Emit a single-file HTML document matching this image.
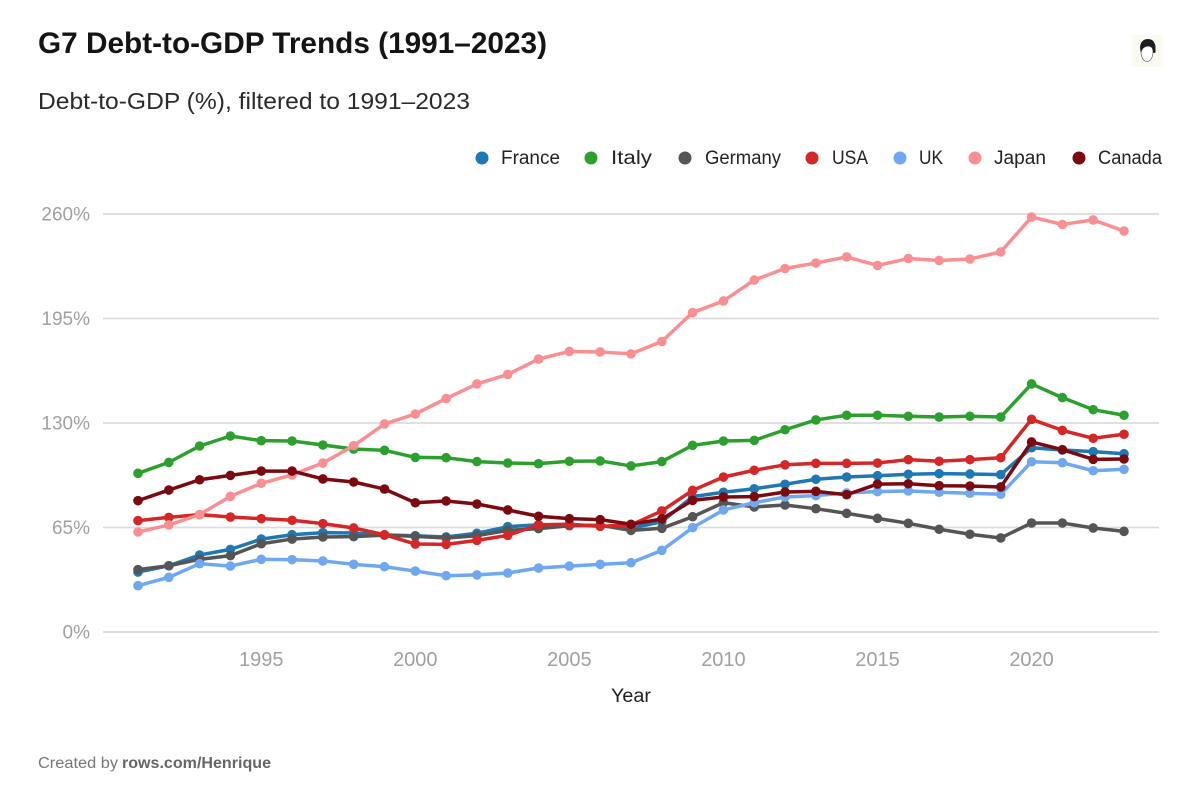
<!DOCTYPE html>
<html lang="en">
<head>
<meta charset="utf-8">
<title>G7 Debt-to-GDP Trends (1991–2023)</title>
<style>
html,body{margin:0;padding:0;background:#fff;}
body{width:1200px;height:800px;overflow:hidden;}
svg{display:block;font-family:"Liberation Sans",sans-serif;}
</style>
</head>
<body>
<svg id="chart" xmlns="http://www.w3.org/2000/svg" width="1200" height="800" viewBox="0 0 1200 800">
  <rect x="0" y="0" width="1200" height="800" fill="#fff"/>
  <text x="38" y="53" font-size="29.500" font-weight="700" fill="#141414" textLength="509" lengthAdjust="spacingAndGlyphs">G7 Debt-to-GDP Trends (1991–2023)</text>
  <text x="38" y="109" font-size="23" fill="#2a2a2a" textLength="432" lengthAdjust="spacingAndGlyphs">Debt-to-GDP (%), filtered to 1991–2023</text>

  <g>
    <rect x="1131" y="35" width="32" height="32" fill="#fafaf3"/>
    <ellipse cx="1147" cy="52" rx="6" ry="9.500" fill="#fff" stroke="#666" stroke-width="0.7"/>
    <path d="M1141 53 C1138 43 1143 39 1148 39 C1154 39 1156 44 1155.500 52 L1153 52 C1153 48 1151 46 1147 46.500 C1144 47 1142 49 1141 53 Z" fill="#1c1c1c"/>
    <rect x="1153" y="45" width="2.500" height="8" rx="1" fill="#222"/>
  </g>

  <g font-size="19" fill="#222">
    <g><circle cx="482" cy="158" r="6.500" fill="#1f77b4"/><text x="501" y="164" textLength="59" lengthAdjust="spacingAndGlyphs">France</text></g>
    <g><circle cx="591" cy="158" r="6.500" fill="#2ca02c"/><text x="611" y="164" textLength="41" lengthAdjust="spacingAndGlyphs">Italy</text></g>
    <g><circle cx="685" cy="158" r="6.500" fill="#555555"/><text x="705" y="164" textLength="76" lengthAdjust="spacingAndGlyphs">Germany</text></g>
    <g><circle cx="812" cy="158" r="6.500" fill="#d62728"/><text x="832" y="164" textLength="36" lengthAdjust="spacingAndGlyphs">USA</text></g>
    <g><circle cx="900" cy="158" r="6.500" fill="#6fa8f0"/><text x="919" y="164" textLength="24" lengthAdjust="spacingAndGlyphs">UK</text></g>
    <g><circle cx="975" cy="158" r="6.500" fill="#f98f92"/><text x="994" y="164" textLength="52" lengthAdjust="spacingAndGlyphs">Japan</text></g>
    <g><circle cx="1079" cy="158" r="6.500" fill="#7a0a0f"/><text x="1098" y="164" textLength="64" lengthAdjust="spacingAndGlyphs">Canada</text></g>
  </g>

  <g id="grid"></g>
  <g id="y-axis"></g>
  <g id="x-axis"></g>
  <g id="series"></g>

  <text x="611" y="702" font-size="19" fill="#222" textLength="40" lengthAdjust="spacingAndGlyphs">Year</text>
  <text y="768" font-size="15.500" fill="#777"><tspan x="38" textLength="80" lengthAdjust="spacingAndGlyphs">Created by</tspan><tspan x="122" font-weight="700" fill="#666" textLength="149" lengthAdjust="spacingAndGlyphs">rows.com/Henrique</tspan></text>
</svg>
<script>
const years = [1991,1992,1993,1994,1995,1996,1997,1998,1999,2000,2001,2002,2003,2004,2005,2006,2007,2008,2009,2010,2011,2012,2013,2014,2015,2016,2017,2018,2019,2020,2021,2022,2023];
const yTicks = [0,65,130,195,260];
const xTicks = [1995,2000,2005,2010,2015,2020];

const france = [37.3,41.2,47.9,51.4,57.8,60.5,61.8,61.6,60.3,59.9,59.1,61.4,65.5,66.7,66.7,66.1,64.5,68.6,84.2,86.9,89.1,91.9,95,96.4,97.2,98.1,98.5,98.3,97.9,114.6,113.2,112.2,110.9];
const italy = [98.7,105.5,115.7,121.9,119,118.8,116.3,113.8,113,108.6,108.4,106,105.1,104.7,106.2,106.4,103.3,106,116.1,118.8,119.2,125.8,131.9,134.8,134.8,134.2,133.7,134.2,133.7,154.3,145.8,138.3,134.8];
const germany = [38.8,41.2,45.2,47.5,54.9,57.8,59.1,59.3,60.3,59.5,58.5,59.9,63.2,64.3,66.1,66.4,63.2,64.5,71.7,80.4,77.8,79,76.7,73.8,70.7,67.6,63.9,60.8,58.5,67.8,67.8,64.7,62.6];
const usa = [69.3,71.3,73,71.5,70.5,69.5,67.4,64.7,60.5,54.7,54.5,57,60.1,66.7,67,65.7,66.6,75.3,88.1,96.4,100.6,104,104.9,104.9,105.1,107.2,106.2,107.2,108.4,132.3,125.4,120.5,123];
const uk = [28.8,34,42.5,41,45.2,45,44.2,42.1,40.6,37.9,35,35.5,36.7,39.8,41,42.1,43.1,50.8,64.9,75.9,80.4,84,84.8,86.5,87.3,87.7,86.9,86.3,85.7,105.9,105.3,100.3,101.2];
const japan = [62.2,66.6,73,84.4,92.5,97.7,105.1,115.9,129.4,135.6,145.2,154.3,160.2,169.8,174.5,174.2,173,180.7,198.7,205.9,218.9,226.1,229.5,233.3,228,232.3,231.1,232,236.4,258.1,253.5,256.3,249.4];
const canada = [81.7,88.3,94.7,97.4,100.1,100.1,95.2,93.3,88.9,80.4,81.5,79.6,75.9,72,70.5,69.9,67,70.3,81.9,84,84.2,87.1,87.5,85.4,92,92.2,91,90.8,90.2,118.2,113.4,107.4,107.6];

const seriesNames = ['france','italy','germany','usa','uk','japan','canada'];
const seriesValues = [france,italy,germany,usa,uk,japan,canada];
const seriesColors = ['#1f77b4','#2ca02c','#555555','#d62728','#6fa8f0','#f98f92','#7a0a0f'];

const NS = 'http://www.w3.org/2000/svg';
const PLOT = {x0:138, x1:1124, y0:632, y1:214, left:103, right:1159};

function xScale(year){
  return PLOT.x0 + (year - 1991) / (2023 - 1991) * (PLOT.x1 - PLOT.x0);
}
function yScale(value){
  return PLOT.y0 - value / 260 * (PLOT.y0 - PLOT.y1);
}
function make(tag, attrs, parent){
  const el = document.createElementNS(NS, tag);
  for (const k in attrs) el.setAttribute(k, attrs[k]);
  parent.appendChild(el);
  return el;
}

const gridLayer = document.getElementById('grid');
const yLayer = document.getElementById('y-axis');
const xLayer = document.getElementById('x-axis');
const seriesLayer = document.getElementById('series');

yTicks.forEach(function(tick){
  const y = yScale(tick);
  const line = make('line', {x1:PLOT.left, x2:PLOT.right, y1:y, y2:y, stroke:'#dcdcdc', 'stroke-width':1.8}, gridLayer);
  
  
  const text = make('text', {x:90, y:y + 6.5, 'text-anchor':'end', 'font-size':19, fill:'#a0a0a0'}, yLayer);
  text.textContent = tick + '%';
  
  
});

xTicks.forEach(function(tick){
  const text = make('text', {x:xScale(tick), y:666, 'text-anchor':'middle', 'font-size':20, fill:'#a0a0a0'}, xLayer);
  text.textContent = String(tick);
  
  
});

seriesValues.forEach(function(values, s){
  const group = make('g', {}, seriesLayer);
  
  
  const pts = values.map(function(v, i){ return xScale(years[i]).toFixed(2) + ',' + yScale(v).toFixed(2); }).join(' ');
  const line = make('polyline', {points:pts, fill:'none', stroke:seriesColors[s], 'stroke-width':3.5, 'stroke-linejoin':'round', 'stroke-linecap':'round'}, group);
  
  
  values.forEach(function(v, i){
    const dot = make('circle', {cx:xScale(years[i]), cy:yScale(v), r:4.8, fill:seriesColors[s]}, group);
    
    
  });
});
</script>
</body>
</html>
